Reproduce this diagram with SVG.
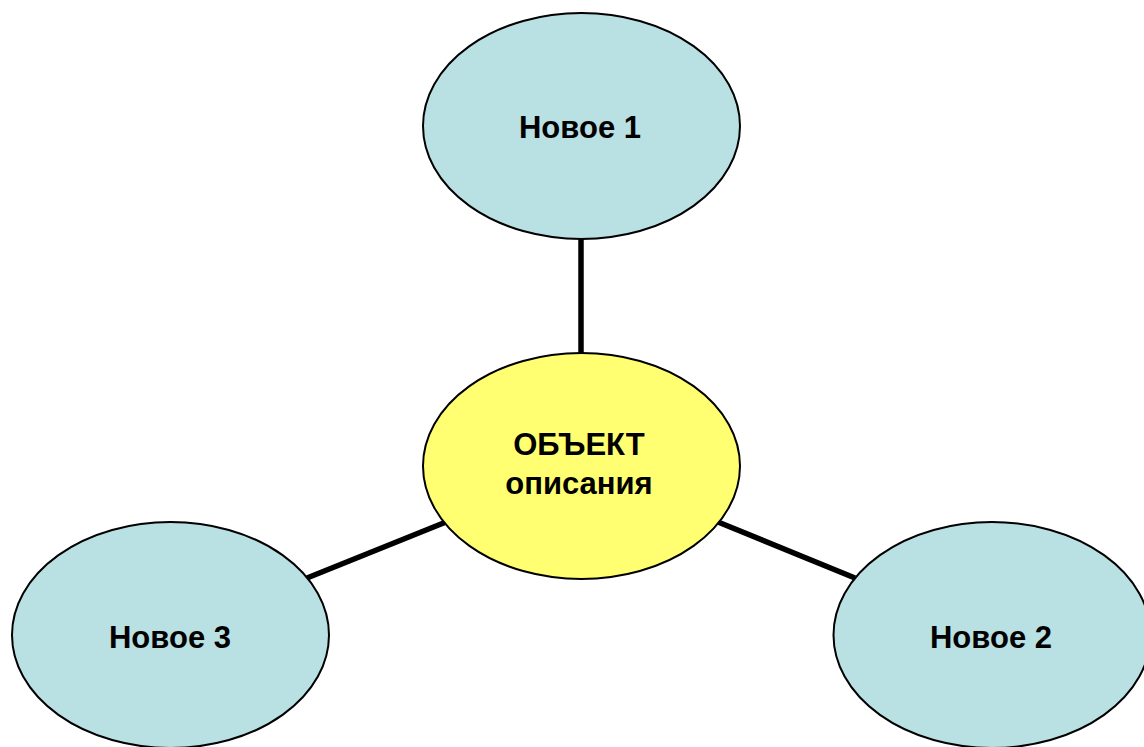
<svg xmlns="http://www.w3.org/2000/svg" width="1144" height="747" viewBox="0 0 1144 747">
<style>
.node{stroke:#000;stroke-width:2}
.blue{fill:#b9e0e3}
.yellow{fill:#ffff71}
.lbl{font-family:"Liberation Sans",Arial,sans-serif;font-weight:bold;fill:#000;text-anchor:middle;font-size:31px}
.conn{stroke:#000;stroke-width:5.5;fill:none}
</style>
<rect width="1144" height="747" fill="#fff"/>
<g id="connectors">
<line class="conn" x1="581" y1="239" x2="581" y2="354"/>
<line class="conn" x1="446" y1="522" x2="307" y2="578"/>
<line class="conn" x1="718" y1="522" x2="855" y2="578"/>
</g>
<g id="node-new1">
<ellipse class="node blue" cx="581.5" cy="126" rx="158.5" ry="113"/>
<text class="lbl" x="580" y="137.5">Новое 1</text>
</g>
<g id="node-object">
<ellipse class="node yellow" cx="581.5" cy="466" rx="158.5" ry="113"/>
<text class="lbl" x="579" y="455">ОБЪЕКТ</text>
<text class="lbl" x="579" y="494">описания</text>
</g>
<g id="node-new3">
<ellipse class="node blue" cx="170.5" cy="635" rx="158.5" ry="113"/>
<text class="lbl" x="170" y="647.5">Новое 3</text>
</g>
<g id="node-new2">
<ellipse class="node blue" cx="992" cy="635" rx="158.5" ry="113"/>
<text class="lbl" x="991" y="647.5">Новое 2</text>
</g>
</svg>
